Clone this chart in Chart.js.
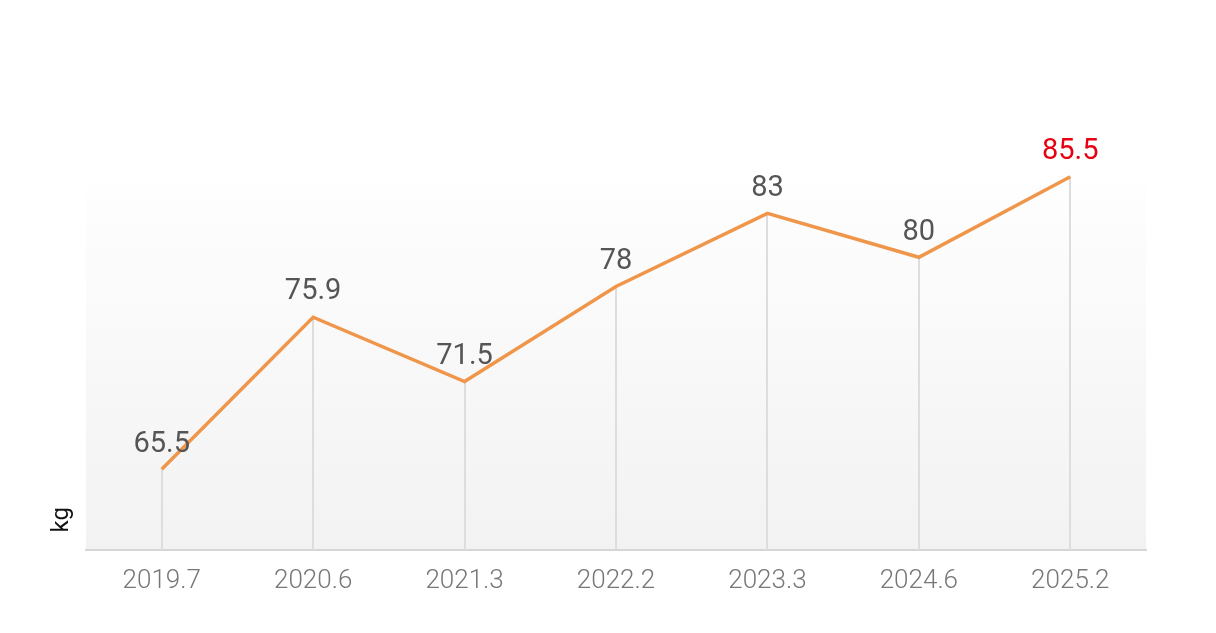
<!DOCTYPE html>
<html>
<head>
<meta charset="utf-8">
<script src="https://cdn.jsdelivr.net/npm/chart.js@4.4.1/dist/chart.umd.min.js"></script>
<style>
  html, body { margin: 0; padding: 0; background: #fff; }
  #wrap { width: 1216px; height: 633px; position: relative; }
</style>
</head>
<body>
<div id="wrap"><canvas id="c"></canvas></div>
<script>
// weight history, kg
const labels = ["2019.7", "2020.6", "2021.3", "2022.2", "2023.3", "2024.6", "2025.2"];
const weights = [65.5, 75.9, 71.5, 78, 83, 80, 85.5];
const unit = "kg";
const yMin = 60;
const yMax = 90;

const LINE = "#f0964a";
const LABEL = "#555555";
const LAST_LABEL = "#e60012";
const FONT = "Roboto, 'Noto Sans', sans-serif";

// soft grey gradient behind the plot
const bgPlugin = {
  id: "bg",
  beforeDraw(chart) {
    const { ctx, chartArea: a } = chart;
    const top = a.top + 74;
    const g = ctx.createLinearGradient(0, top, 0, a.bottom);
    g.addColorStop(0, "#fefefe");
    g.addColorStop(1, "#f2f2f2");
    ctx.save();
    ctx.fillStyle = g;
    ctx.fillRect(a.left, top, a.right - a.left, a.bottom - top);
    ctx.restore();
  },
};

// vertical drop line from each point to the axis
const dropPlugin = {
  id: "drops",
  beforeDatasetsDraw(chart) {
    const { ctx, chartArea: a } = chart;
    const pts = chart.getDatasetMeta(0).data;
    ctx.save();
    ctx.strokeStyle = "#dddddd";
    ctx.lineWidth = 2;
    pts.forEach((p) => {
      ctx.beginPath();
      ctx.moveTo(Math.round(p.x), p.y);
      ctx.lineTo(Math.round(p.x), a.bottom);
      ctx.stroke();
    });
    ctx.restore();
  },
};

// value labels above the points (last one red) + unit label on the left
const valuePlugin = {
  id: "values",
  afterDatasetsDraw(chart) {
    const { ctx, chartArea: a } = chart;
    const pts = chart.getDatasetMeta(0).data;
    ctx.save();
    ctx.font = "400 29px " + FONT;
    ctx.textAlign = "center";
    ctx.textBaseline = "middle";
    pts.forEach((p, i) => {
      ctx.fillStyle = i === pts.length - 1 ? LAST_LABEL : LABEL;
      ctx.fillText(String(weights[i]), p.x, p.y - 25);
    });

    ctx.translate(a.left - 24, a.bottom - 30);
    ctx.rotate(-Math.PI / 2);
    ctx.font = "400 24px " + FONT;
    ctx.fillStyle = "#111111";
    ctx.fillText(unit, 0, 0);
    ctx.restore();
  },
};

new Chart(document.getElementById("c"), {
  type: "line",
  data: {
    labels,
    datasets: [
      {
        data: weights,
        borderColor: LINE,
        borderWidth: 3.5,
        pointRadius: 0,
        tension: 0,
        fill: false,
      },
    ],
  },
  options: {
    responsive: true,
    maintainAspectRatio: false,
    animation: false,
    layout: { padding: { top: 111, right: 70, left: 86, bottom: 28 } },
    plugins: { legend: { display: false }, tooltip: { enabled: false } },
    scales: {
      x: {
        offset: true,
        grid: { display: false },
        border: { color: "#d6d6d6", width: 2 },
        ticks: {
          color: "#777777",
          font: { family: FONT, size: 26, weight: 300 },
          padding: 8,
        },
      },
      y: {
        display: false,
        min: yMin,
        max: yMax,
      },
    },
  },
  plugins: [bgPlugin, dropPlugin, valuePlugin],
});
</script>
</body>
</html>
